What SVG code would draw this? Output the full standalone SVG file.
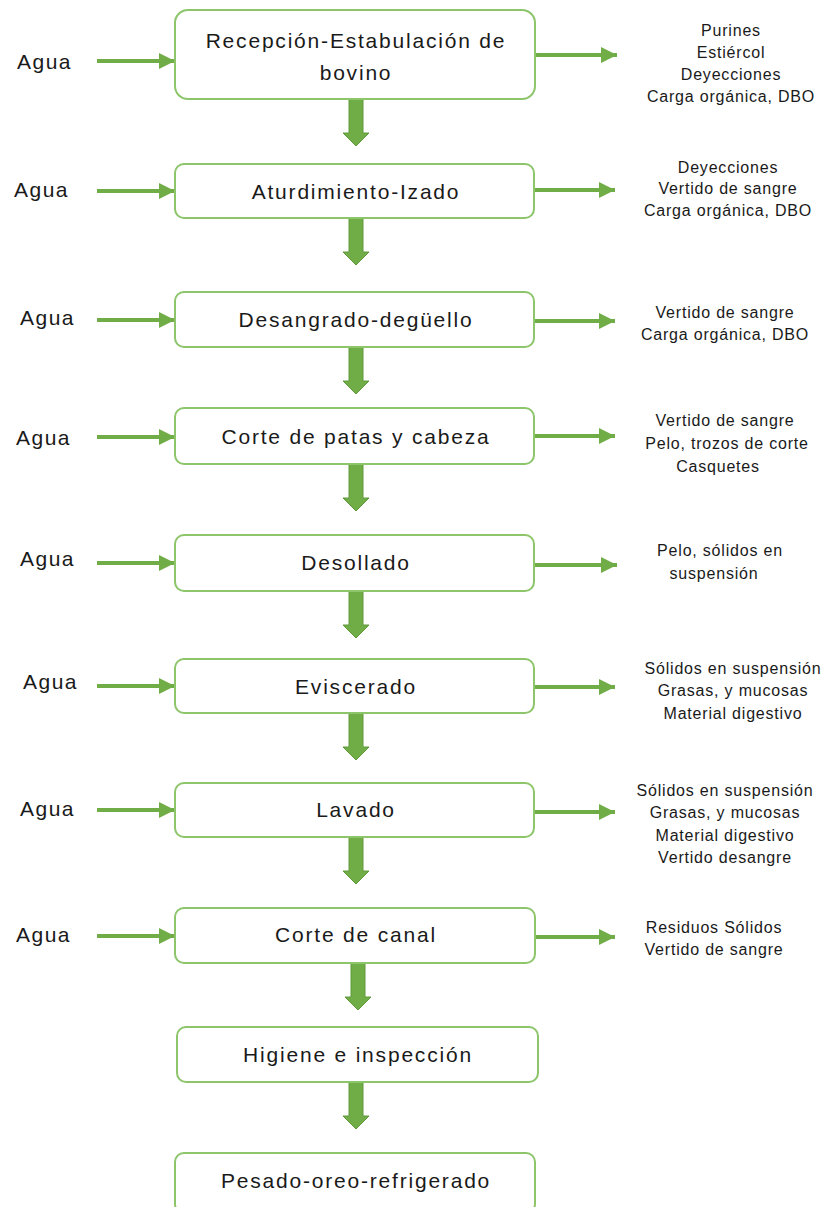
<svg xmlns="http://www.w3.org/2000/svg" width="826" height="1207" viewBox="0 0 826 1207">
<style>
.box{fill:#fff;stroke:#8cc56a;stroke-width:2}
.lbl{font-family:"Liberation Sans",Arial,sans-serif;font-size:21px;letter-spacing:1.8px;fill:#1a1a1a;text-anchor:middle;dominant-baseline:central}
.agua{font-family:"Liberation Sans",Arial,sans-serif;font-size:21px;letter-spacing:1.5px;fill:#1a1a1a;dominant-baseline:central}
.out{font-family:"Liberation Sans",Arial,sans-serif;font-size:16px;letter-spacing:0.8px;fill:#1a1a1a;text-anchor:middle;dominant-baseline:central}
.ln{stroke:#70ad47;stroke-width:4;fill:none}
.dn{fill:#70ad47;stroke:#5e9a3a;stroke-width:1}
</style>
<defs>
<marker id="ah" viewBox="0 0 10 10" refX="10" refY="5" markerWidth="4" markerHeight="4" markerUnits="strokeWidth" orient="auto">
<path d="M0,0 L10,5 L0,10 Z" fill="#70ad47"/>
</marker>
<path id="down" d="M-7,0 H7 V34 H13 L0,47 L-13,34 H-7 Z"/>
</defs>
<g id="connectors">
<line class="ln" x1="97" y1="61" x2="175" y2="61" marker-end="url(#ah)"/>
<line class="ln" x1="97" y1="191" x2="175" y2="191" marker-end="url(#ah)"/>
<line class="ln" x1="97" y1="320" x2="175" y2="320" marker-end="url(#ah)"/>
<line class="ln" x1="97" y1="437" x2="175" y2="437" marker-end="url(#ah)"/>
<line class="ln" x1="97" y1="563" x2="175" y2="563" marker-end="url(#ah)"/>
<line class="ln" x1="97" y1="686" x2="175" y2="686" marker-end="url(#ah)"/>
<line class="ln" x1="97" y1="810" x2="175" y2="810" marker-end="url(#ah)"/>
<line class="ln" x1="97" y1="936" x2="175" y2="936" marker-end="url(#ah)"/>
<line class="ln" x1="535" y1="55" x2="617" y2="55" marker-end="url(#ah)"/>
<line class="ln" x1="535" y1="190" x2="615" y2="190" marker-end="url(#ah)"/>
<line class="ln" x1="535" y1="321" x2="615" y2="321" marker-end="url(#ah)"/>
<line class="ln" x1="535" y1="436" x2="615" y2="436" marker-end="url(#ah)"/>
<line class="ln" x1="535" y1="565" x2="617" y2="565" marker-end="url(#ah)"/>
<line class="ln" x1="535" y1="687" x2="615" y2="687" marker-end="url(#ah)"/>
<line class="ln" x1="535" y1="812" x2="615" y2="812" marker-end="url(#ah)"/>
<line class="ln" x1="535" y1="937" x2="615" y2="937" marker-end="url(#ah)"/>
<use href="#down" class="dn" x="356" y="99"/>
<use href="#down" class="dn" x="356" y="218"/>
<use href="#down" class="dn" x="356" y="347"/>
<use href="#down" class="dn" x="356" y="464"/>
<use href="#down" class="dn" x="356" y="591"/>
<use href="#down" class="dn" x="356" y="713"/>
<use href="#down" class="dn" x="356" y="837"/>
<use href="#down" class="dn" x="358" y="963"/>
<use href="#down" class="dn" x="356" y="1082"/>
</g>
<g id="inputs">
<text class="agua" x="17" y="61">Agua</text>
<text class="agua" x="14" y="189">Agua</text>
<text class="agua" x="20" y="317">Agua</text>
<text class="agua" x="16" y="437">Agua</text>
<text class="agua" x="20" y="558">Agua</text>
<text class="agua" x="23" y="681">Agua</text>
<text class="agua" x="20" y="808">Agua</text>
<text class="agua" x="16" y="934">Agua</text>
</g>
<g id="n1"><rect class="box" x="175" y="10" width="360" height="89" rx="13"/><text class="lbl" x="356" y="40">Recepción-Estabulación de</text><text class="lbl" x="356" y="72">bovino</text></g>
<g id="n2"><rect class="box" x="175" y="164" width="359" height="54" rx="9"/><text class="lbl" x="356" y="191">Aturdimiento-Izado</text></g>
<g id="n3"><rect class="box" x="175" y="292" width="359" height="55" rx="9"/><text class="lbl" x="356" y="319">Desangrado-degüello</text></g>
<g id="n4"><rect class="box" x="175" y="408" width="359" height="56" rx="9"/><text class="lbl" x="356" y="436">Corte de patas y cabeza</text></g>
<g id="n5"><rect class="box" x="175" y="535" width="359" height="56" rx="9"/><text class="lbl" x="356" y="562">Desollado</text></g>
<g id="n6"><rect class="box" x="175" y="659" width="359" height="54" rx="9"/><text class="lbl" x="356" y="686">Eviscerado</text></g>
<g id="n7"><rect class="box" x="175" y="783" width="359" height="54" rx="9"/><text class="lbl" x="356" y="809">Lavado</text></g>
<g id="n8"><rect class="box" x="175" y="908" width="360" height="55" rx="9"/><text class="lbl" x="356" y="934">Corte de canal</text></g>
<g id="n9"><rect class="box" x="177" y="1027" width="361" height="55" rx="9"/><text class="lbl" x="358" y="1054">Higiene e inspección</text></g>
<g id="n10"><rect class="box" x="175" y="1153" width="360" height="60" rx="9"/><text class="lbl" x="356" y="1180">Pesado-oreo-refrigerado</text></g>
<g id="outputs">
<text class="out" x="731" y="30">Purines</text>
<text class="out" x="731" y="52">Estiércol</text>
<text class="out" x="731" y="74">Deyecciones</text>
<text class="out" x="731" y="96">Carga orgánica, DBO</text>
<text class="out" x="728" y="167">Deyecciones</text>
<text class="out" x="728" y="188">Vertido de sangre</text>
<text class="out" x="728" y="210">Carga orgánica, DBO</text>
<text class="out" x="725" y="312">Vertido de sangre</text>
<text class="out" x="725" y="334">Carga orgánica, DBO</text>
<text class="out" x="725" y="420">Vertido de sangre</text>
<text class="out" x="727" y="443">Pelo, trozos de corte</text>
<text class="out" x="718" y="466">Casquetes</text>
<text class="out" x="720" y="550">Pelo, sólidos en</text>
<text class="out" x="714" y="573">suspensión</text>
<text class="out" x="733" y="668">Sólidos en suspensión</text>
<text class="out" x="733" y="690">Grasas, y mucosas</text>
<text class="out" x="733" y="713">Material digestivo</text>
<text class="out" x="725" y="790">Sólidos en suspensión</text>
<text class="out" x="725" y="812">Grasas, y mucosas</text>
<text class="out" x="725" y="835">Material digestivo</text>
<text class="out" x="725" y="857">Vertido desangre</text>
<text class="out" x="714" y="927">Residuos Sólidos</text>
<text class="out" x="714" y="949">Vertido de sangre</text>
</g>
</svg>
